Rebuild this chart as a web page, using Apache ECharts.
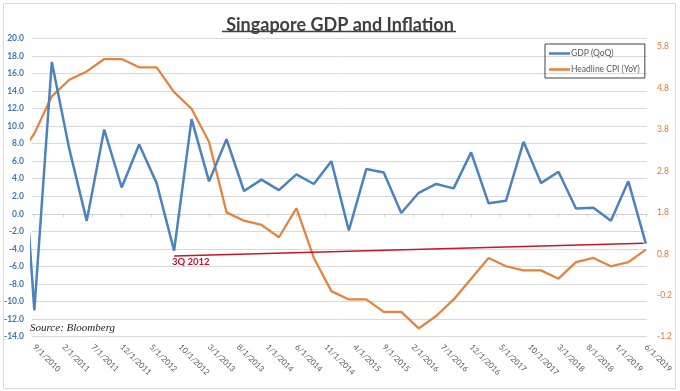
<!DOCTYPE html>
<html>
<head>
<meta charset="utf-8">
<script src="https://cdn.jsdelivr.net/npm/echarts@6/dist/echarts.min.js"></script>
<style>html,body{margin:0;padding:0;background:#fff}#c{width:680px;height:391px}</style>
</head>
<body>
<div id="c"></div>
<script>
// Quarterly observation dates (first one lies just left of the visible axis start)
const quarters = ['2010-06','2010-09','2010-12','2011-03','2011-06','2011-09','2011-12','2012-03','2012-06','2012-09','2012-12',
  '2013-03','2013-06','2013-09','2013-12','2014-03','2014-06','2014-09','2014-12','2015-03','2015-06','2015-09','2015-12',
  '2016-03','2016-06','2016-09','2016-12','2017-03','2017-06','2017-09','2017-12','2018-03','2018-06','2018-09','2018-12',
  '2019-03','2019-06'];
// GDP (QoQ), left axis
const gdpQoQ = [18, -11.0, 17.3, 7.4, -0.8, 9.6, 3.0, 7.9, 3.5, -4.2, 10.8,
  3.7, 8.5, 2.6, 3.9, 2.7, 4.5, 3.4, 6.0, -1.9, 5.1, 4.7, 0.1,
  2.4, 3.4, 2.9, 7.0, 1.2, 1.5, 8.2, 3.5, 4.8, 0.6, 0.7, -0.8,
  3.7, -3.4];
// Headline CPI (YoY), right axis
const cpiYoY = [3.1, 3.7, 4.6, 5.0, 5.2, 5.5, 5.5, 5.3, 5.3, 4.7, 4.3,
  3.5, 1.8, 1.6, 1.5, 1.2, 1.9, 0.7, -0.1, -0.3, -0.3, -0.6, -0.6,
  -1.0, -0.7, -0.3, 0.2, 0.7, 0.5, 0.4, 0.4, 0.2, 0.6, 0.7, 0.5,
  0.6, 0.9];
// X tick labels
const tickLabels = ['9/1/2010','2/1/2011','7/1/2011','12/1/2011','5/1/2012','10/1/2012','3/1/2013','8/1/2013','1/1/2014',
  '6/1/2014','11/1/2014','4/1/2015','9/1/2015','2/1/2016','7/1/2016','12/1/2016','5/1/2017','10/1/2017','3/1/2018',
  '8/1/2018','1/1/2019','6/1/2019'];
const leftTicks = {min: -14, max: 20, step: 2};
const rightTicks = {min: -1.2, max: 6.0, step: 1};
const seriesNames = ['GDP (QoQ)', 'Headline CPI (YoY)'];
const annotationQuarter = '2012-09';
const annotationText = '3Q 2012';

const base = 2010 * 12 + 8; // Sep 2010
const mIdx = s => { const [y, m] = s.split('-').map(Number); return y * 12 + m - 1 - base; };
const mIdxLabel = s => { const [m, d, y] = s.split('/').map(Number); return y * 12 + m - 1 - base; };
const labelByMonth = {};
tickLabels.forEach(t => labelByMonth[mIdxLabel(t)] = t);
const tickVals = tickLabels.map(mIdxLabel);
const xs = quarters.map(mIdx);
const gdpData = xs.map((x, i) => [x, gdpQoQ[i]]);
const cpiData = xs.map((x, i) => [x, cpiYoY[i]]);
const ai = quarters.indexOf(annotationQuarter);
const last = xs.length - 1;

const blue = '#4a83bf', orange = '#e8813b', grid = '#d9d9d9';
const chart = echarts.init(document.getElementById('c'), null, {renderer: 'canvas'});
chart.setOption({
  animation: false,
  backgroundColor: '#fff',
  title: {
    text: 'Singapore GDP and Inflation', left: 'center', top: 11,
    textStyle: {fontFamily: 'Lato', fontWeight: 'bold', fontSize: 18, color: '#404040'}
  },
  legend: {
    data: seriesNames, orient: 'vertical', left: 545, top: 44,
    borderColor: '#404040', borderWidth: 1, padding: [5, 5, 4, 4], itemGap: 7,
    itemWidth: 21, itemHeight: 2.5, icon: 'rect',
    textStyle: {fontFamily: 'Lato', fontSize: 8.5, color: '#595959', padding: [0, 0, 0, -4]}
  },
  grid: {left: 32, right: 33, top: 38.3, bottom: 54.3},
  xAxis: [{
    type: 'value', min: -0.4, max: 105.2, position: 'bottom',
    axisLine: {show: false, onZero: false}, axisTick: {show: false}, splitLine: {show: false},
    axisLabel: {
      customValues: tickVals, rotate: -45, margin: 9, fontFamily: 'Lato', fontSize: 8, color: '#595959',
      formatter: v => labelByMonth[Math.round(v)] || ''
    }
  }, {
    type: 'value', min: -0.4, max: 105.2, position: 'top',
    axisLine: {show: true, onZero: true, onZeroAxisIndex: 0, lineStyle: {color: '#cfcfcf', width: 1}},
    axisTick: {show: true, inside: true, length: 3, customValues: tickVals, lineStyle: {color: '#cfcfcf'}},
    axisLabel: {show: false}, splitLine: {show: false}
  }],
  yAxis: [{
    type: 'value', min: leftTicks.min, max: leftTicks.max, interval: leftTicks.step, position: 'left',
    axisLine: {show: false}, axisTick: {show: false},
    splitLine: {show: true, lineStyle: {color: grid, width: 1}},
    axisLabel: {margin: 8, fontFamily: 'Lato', fontWeight: 'bold', fontSize: 8.5, color: '#3d78b4',
      formatter: v => v.toFixed(1)}
  }, {
    type: 'value', min: rightTicks.min, max: rightTicks.max, interval: rightTicks.step, position: 'right',
    axisLine: {show: false}, axisTick: {show: false}, splitLine: {show: false},
    axisLabel: {margin: 10, fontFamily: 'Lato', fontSize: 8.5, color: '#e07b33', showMaxLabel: false,
      formatter: v => (Math.abs(v - rightTicks.max) < 1e-6 ? '' : (Math.round(v * 10) / 10).toFixed(1))}
  }],
  series: [{
    name: seriesNames[0], type: 'line', data: gdpData, xAxisIndex: 0, yAxisIndex: 0,
    symbol: 'none', clip: true, lineStyle: {color: blue, width: 2.5}, itemStyle: {color: blue}, z: 3,
    markLine: {
      silent: true, symbol: ['none', 'arrow'], symbolSize: [0, 8],
      lineStyle: {color: '#cc1428', width: 1.6, type: 'solid'}, label: {show: false},
      data: [[{coord: [xs[ai], gdpQoQ[ai] - 0.6]}, {coord: [xs[last] - 0.4, gdpQoQ[last] + 0.05]}]]
    }
  }, {
    name: seriesNames[1], type: 'line', data: cpiData, xAxisIndex: 0, yAxisIndex: 1,
    symbol: 'none', clip: true, lineStyle: {color: orange, width: 2.25}, itemStyle: {color: orange}, z: 2
  }],
  graphic: [
    {type: 'rect', shape: {x: 3.5, y: 3.5, width: 672, height: 385}, style: {fill: 'none', stroke: '#d9d9d9', lineWidth: 1}, silent: true},
    {type: 'line', shape: {x1: 222, y1: 31.5, x2: 456, y2: 31.5}, style: {stroke: '#404040', lineWidth: 1.3}, silent: true},
    {type: 'text', left: 30, top: 323, style: {text: 'Source: Bloomberg', font: 'italic 11px "Liberation Serif"', fill: '#222'}},
    {type: 'text', left: 172, top: 257, style: {text: annotationText, font: 'bold 9.5px Lato', fill: '#c8102e'}}
  ]
});
</script>
</body>
</html>
